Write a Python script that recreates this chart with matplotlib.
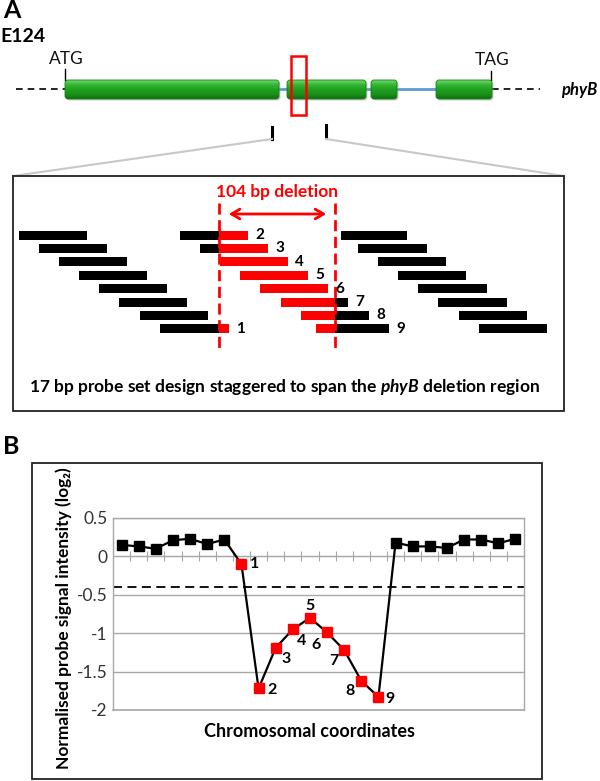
import numpy as np
import matplotlib.pyplot as plt
from matplotlib.patches import Rectangle, FancyBboxPatch
from matplotlib.colors import LinearSegmentedColormap

plt.rcParams['font.family'] = ['Lato', 'DejaVu Sans']
plt.rcParams['mathtext.fontset'] = 'custom'
plt.rcParams['mathtext.it'] = 'Lato:italic:bold'

# ---- panel A: gene model (positions along the drawn gene, px) ----
exon_start = [65, 287, 371, 436]
exon_end = [279, 366, 397, 492]

# probe tiling around the deletion
del_left, del_right = 219, 335
left_flank_start = [19, 39, 59, 79, 99, 119, 140]
right_flank_start = [341, 358, 378, 398, 418, 438, 459, 479]
right_flank_end = [407, 427, 446, 466, 487, 507, 527, 547]
flank_len = 68
probe_ids = ['1', '2', '3', '4', '5', '6', '7', '8', '9']
probe_row = [7, 0, 1, 2, 3, 4, 5, 6, 7]
probe_start = [160, 180, 200, 220, 240, 260, 281, 301, 316]
probe_end = [229, 248, 268, 288, 308, 328, 348, 369, 389]

# ---- panel B: normalised signal per probe ----
signal = [0.15, 0.13, 0.10, 0.21, 0.23, 0.16, 0.22,
          -0.10, -1.72, -1.19, -0.95, -0.80, -0.99, -1.22, -1.62, -1.83,
          0.18, 0.13, 0.13, 0.11, 0.22, 0.22, 0.17, 0.23]
deleted_idx = [7, 8, 9, 10, 11, 12, 13, 14, 15]
threshold = -0.4
yticks = [0.5, 0, -0.5, -1, -1.5, -2]
ytick_labels = ['0.5', '0', '-0.5', '-1', '-1.5', '-2']
# label offsets (pixels) for probes 1-9
label_off = [(13, 0), (13, -2), (10, -11), (9, -12), (0, 12), (-11, -13),
             (-10, -11), (-11, -10), (12, -2)]

W, H = 600, 781
fig = plt.figure(figsize=(W / 100, H / 100), dpi=100)
axA = fig.add_axes([0, 0, 1, 1])
axA.set_xlim(0, W)
axA.set_ylim(H, 0)
axA.axis('off')

red = '#ff0000'

# panel letters / title
axA.text(3, 11, 'A', fontsize=18, fontweight='bold', va='center', ha='left')
axA.text(0, 37, 'E124', fontsize=14, fontweight='bold', va='center', ha='left')
axA.text(3, 447, 'B', fontsize=18, fontweight='bold', va='center', ha='left')

# gene line
gy = 89
axA.plot([16, exon_start[0]], [gy, gy], color='black', lw=1.2, ls=(0, (4, 3)))
axA.plot([exon_end[-1], 540], [gy, gy], color='black', lw=1.2, ls=(0, (4, 3)))
axA.plot([exon_end[0], exon_start[-1]], [gy, gy], color='#5b9bd5', lw=2, zorder=1)

green = LinearSegmentedColormap.from_list(
    'ex', ['#6fd86f', '#33b733', '#1f9f1f', '#1a921a', '#0f6f0f'])
grad = np.linspace(0, 1, 64).reshape(-1, 1)
for s, e in zip(exon_start, exon_end):
    sh = FancyBboxPatch((s + 1.5, 81.5), e - s, 19,
                        boxstyle='round,pad=0,rounding_size=3',
                        fc='#9a9a9a', ec='none', alpha=0.5, zorder=2)
    axA.add_patch(sh)
    p = FancyBboxPatch((s, 80), e - s, 19, boxstyle='round,pad=0,rounding_size=3',
                       fc='none', ec='#178017', lw=0.6, zorder=4)
    axA.add_patch(p)
    im = axA.imshow(grad, cmap=green, extent=(s, e, 99, 80), aspect='auto', zorder=3)
    im.set_clip_path(p)

axA.plot([exon_start[0], exon_start[0]], [69, 80], color='black', lw=1)
axA.plot([exon_end[-1] - 1, exon_end[-1] - 1], [71, 80], color='black', lw=1)
axA.text(66, 59, 'ATG', fontsize=12.5, ha='center', va='center', color='#111111')
axA.text(492, 60, 'TAG', fontsize=12.5, ha='center', va='center', color='#111111')
axA.text(579, 90, 'phyB', fontsize=12, fontweight='bold', style='italic',
         ha='center', va='center')

axA.add_patch(Rectangle((291, 56), 15, 59, fc='none', ec=red, lw=1.8, zorder=6))

# zoom marks and connector lines
axA.plot([272, 272], [127, 139], color='black', lw=2.2)
axA.plot([326, 326], [125, 138], color='black', lw=2.2)
axA.plot([272, 13], [139, 176], color='#c8c8c8', lw=1.5)
axA.plot([326, 564], [139, 176], color='#c8c8c8', lw=1.5)
axA.add_patch(Rectangle((13, 176), 551, 235, fc='white', ec='#222222', lw=1.3, zorder=2))

# probe rows
row_y = [235 + 13.4 * r for r in range(8)]
bh = 9
for r, s in enumerate(left_flank_start):
    axA.barh(row_y[r], flank_len, left=s, height=bh, color='black', zorder=3)
for r, (s, e) in enumerate(zip(right_flank_start, right_flank_end)):
    axA.barh(row_y[r], e - s, left=s, height=bh, color='black', zorder=3)
for pid, r, s, e in zip(probe_ids, probe_row, probe_start, probe_end):
    y = row_y[r]
    rs, re = max(s, del_left), min(e, del_right)
    if s < del_left:
        axA.barh(y, del_left - s, left=s, height=bh, color='black', zorder=3)
    if e > del_right:
        axA.barh(y, e - del_right, left=del_right, height=bh, color='black', zorder=3)
    axA.barh(y, re - rs, left=rs, height=bh, color=red, zorder=3)
    axA.text(e + 7, y, pid, fontsize=11, fontweight='bold', ha='left', va='center', zorder=5)

for x in (del_left, del_right):
    axA.plot([x, x], [203, 352], color=red, lw=2, ls=(0, (4, 2)), zorder=4)
axA.text(277, 192, '104 bp deletion', color=red, fontsize=12.5, fontweight='bold',
         ha='center', va='center')
axA.annotate('', xy=(226, 214), xytext=(329, 214),
             arrowprops=dict(arrowstyle='<->,head_length=0.6,head_width=0.35',
                             color=red, lw=2))
axA.text(285, 387, '17 bp probe set design staggered to span the $\\it{phyB}$ deletion region',
         fontsize=12.5, fontweight='bold', ha='center', va='center')

# panel B frame
axA.add_patch(Rectangle((32, 463), 510, 316, fc='white', ec='#222222', lw=1.3, zorder=2))

axB = fig.add_axes([113 / W, (H - 710) / H, 411 / W, 192 / H])
x = np.arange(len(signal)) + 0.5
axB.plot(x, signal, color='black', lw=1.6, zorder=3)
flank_idx = [i for i in range(len(signal)) if i not in deleted_idx]
axB.plot(x[flank_idx], np.array(signal)[flank_idx], ls='none', marker='s',
         ms=7, color='black', zorder=4)
axB.plot(x[deleted_idx], np.array(signal)[deleted_idx], ls='none', marker='s',
         ms=7, color=red, mec=red, zorder=4)
for k, i in enumerate(deleted_idx):
    axB.annotate(probe_ids[k], (x[i], signal[i]), xytext=label_off[k],
                 textcoords='offset pixels', ha='center', va='center',
                 fontsize=11.5, fontweight='bold', zorder=5)
axB.axhline(threshold, color='black', lw=1.3, ls=(0, (5, 3)), zorder=2)

axB.set_xlim(0, len(signal))
axB.set_ylim(-2, 0.5)
axB.set_yticks(yticks)
axB.set_yticklabels(ytick_labels)
axB.set_xticks(np.arange(1, len(signal)))
axB.yaxis.grid(True, color='#a8a8a8', lw=1)
axB.axhline(-2, color='#a8a8a8', lw=1.2, clip_on=False)
axB.set_axisbelow(True)
for side in ('left', 'right', 'top'):
    axB.spines[side].set_color('#a8a8a8')
    axB.spines[side].set_linewidth(1)
axB.spines['bottom'].set_position(('data', 0))
axB.spines['bottom'].set_color('#a8a8a8')
axB.tick_params(axis='x', direction='inout', length=7, color='#a8a8a8',
                labelbottom=False)
axB.tick_params(axis='y', length=0, pad=4, labelsize=12.5, labelcolor='#333333')
axB.set_ylabel('Normalised probe signal intensity (log\u2082)', fontsize=12.5,
               fontweight='bold')
axB.yaxis.set_label_coords(-0.1, 0.48)
axB.set_xlabel('Chromosomal coordinates', fontsize=13, fontweight='bold')
axB.xaxis.set_label_coords(0.479, -0.07)

fig.savefig('out.png', dpi=100)
